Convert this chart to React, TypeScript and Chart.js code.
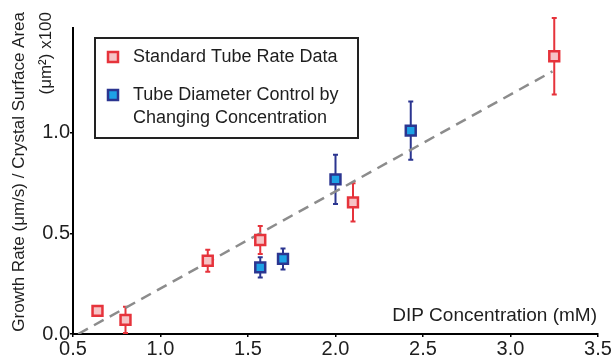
import React, { useEffect, useRef } from "react";
import { Chart, registerables } from "chart.js";

Chart.register(...registerables);

// ---- data ----
const standardX = [0.64, 0.8, 1.27, 1.57, 2.1, 3.25];
const standardY = [0.115, 0.07, 0.364, 0.467, 0.654, 1.38];
const standardErr = [0, 0.065, 0.055, 0.07, 0.095, 0.19];

const controlX = [1.57, 1.7, 2.0, 2.43];
const controlY = [0.331, 0.373, 0.768, 1.01];
const controlErr = [0.05, 0.052, 0.122, 0.145];

const fitX = [0.53, 3.24];
const fitY = [0.0, 1.305];

const xTicks = [0.5, 1.0, 1.5, 2.0, 2.5, 3.0, 3.5];
const yTicks = [0.0, 0.5, 1.0];

const standardLabel = "Standard Tube Rate Data";
const controlLabel = ["Tube Diameter Control by", "Changing Concentration"];
const xTitle = "DIP Concentration (mM)";
const yTitle = ["Growth Rate (\u03bcm/s) / Crystal Surface Area", "(\u03bcm\u00b2) x100"];

const FONT = "'Liberation Sans', Arial, sans-serif";
const RED = "#e6333b";
const RED_FILL = "#f6c3c5";
const BLUE = "#2b3590";
const BLUE_FILL = "#1ea2e6";
const TEXT = "#1e1e1e";

const errorBarPlugin = {
  id: "errorBars",
  beforeDatasetsDraw(chart: any) {
    const ctx = chart.ctx;
    const xs = chart.scales.x;
    const ys = chart.scales.y;
    const sets = [
      { x: standardX, y: standardY, e: standardErr, c: RED },
      { x: controlX, y: controlY, e: controlErr, c: BLUE },
    ];
    ctx.save();
    for (const s of sets) {
      ctx.strokeStyle = s.c;
      ctx.lineWidth = 2;
      for (let i = 0; i < s.x.length; i++) {
        if (!s.e[i]) continue;
        const px = xs.getPixelForValue(s.x[i]);
        const top = ys.getPixelForValue(s.y[i] + s.e[i]);
        const bot = ys.getPixelForValue(s.y[i] - s.e[i]);
        ctx.beginPath();
        ctx.moveTo(px, top);
        ctx.lineTo(px, bot);
        ctx.moveTo(px - 2.5, top);
        ctx.lineTo(px + 2.5, top);
        ctx.moveTo(px - 2.5, bot);
        ctx.lineTo(px + 2.5, bot);
        ctx.stroke();
      }
    }
    ctx.restore();
  },
};

const annotationPlugin = {
  id: "annotations",
  afterDraw(chart: any) {
    const ctx = chart.ctx;
    ctx.save();
    // y axis title (two rotated lines, ending at the top)
    ctx.fillStyle = TEXT;
    ctx.font = `17px ${FONT}`;
    ctx.textBaseline = "middle";
    ctx.textAlign = "right";
    const cols = [19, 46];
    yTitle.forEach((t, i) => {
      ctx.save();
      ctx.translate(cols[i], 12);
      ctx.rotate(-Math.PI / 2);
      ctx.fillText(t, 0, 0);
      ctx.restore();
    });
    // x axis title inside plot
    ctx.font = `19px ${FONT}`;
    ctx.textAlign = "right";
    ctx.textBaseline = "alphabetic";
    ctx.fillText(xTitle, 597, 321);

    // legend
    ctx.strokeStyle = "#222";
    ctx.lineWidth = 2;
    ctx.strokeRect(95, 38, 263, 100);
    const marker = (cx: number, cy: number, fill: string, stroke: string) => {
      ctx.fillStyle = fill;
      ctx.strokeStyle = stroke;
      ctx.lineWidth = 2.5;
      ctx.fillRect(cx - 5, cy - 5, 10, 10);
      ctx.strokeRect(cx - 5, cy - 5, 10, 10);
    };
    marker(113, 57, RED_FILL, RED);
    marker(113, 95, BLUE_FILL, BLUE);
    ctx.fillStyle = TEXT;
    ctx.font = `18px ${FONT}`;
    ctx.textAlign = "left";
    ctx.textBaseline = "middle";
    ctx.fillText(standardLabel, 133, 57);
    ctx.fillText(controlLabel[0], 133, 95);
    ctx.fillText(controlLabel[1], 133, 118);
    ctx.restore();
  },
};

const whiteBg = {
  id: "whiteBg",
  beforeDraw(chart: any) {
    const ctx = chart.ctx;
    ctx.save();
    ctx.fillStyle = "#ffffff";
    ctx.fillRect(0, 0, chart.width, chart.height);
    ctx.restore();
  },
};

export default function App() {
  const ref = useRef<HTMLCanvasElement | null>(null);
  useEffect(() => {
    if (!ref.current) return;
    const chart = new Chart(ref.current, {
      type: "scatter",
      data: {
        datasets: [
          {
            label: standardLabel,
            data: standardX.map((x, i) => ({ x, y: standardY[i] })),
            pointStyle: "rect",
            pointRadius: 7,
            pointBorderWidth: 2.5,
            backgroundColor: RED_FILL,
            borderColor: RED,
            order: 1,
          } as any,
          {
            label: controlLabel.join(" "),
            data: controlX.map((x, i) => ({ x, y: controlY[i] })),
            pointStyle: "rect",
            pointRadius: 7,
            pointBorderWidth: 2.5,
            backgroundColor: BLUE_FILL,
            borderColor: BLUE,
            order: 0,
          } as any,
          {
            type: "line",
            label: "fit",
            data: fitX.map((x, i) => ({ x, y: fitY[i] })),
            borderColor: "#8c8c8c",
            borderWidth: 2.5,
            borderDash: [11, 7],
            pointRadius: 0,
            fill: false,
            order: 2,
          } as any,
        ],
      },
      options: {
        responsive: false,
        animation: false,
        layout: { padding: { left: 0, right: 16, top: 28, bottom: 0 } },
        plugins: {
          legend: { display: false },
          tooltip: { enabled: false },
        },
        scales: {
          x: {
            type: "linear",
            min: 0.5,
            max: 3.5,
            afterBuildTicks: (s: any) => {
              s.ticks = xTicks.map((v) => ({ value: v }));
            },
            afterFit: (s: any) => {
              s.height = 24;
            },
            border: { color: "#000", width: 2 },
            grid: { drawOnChartArea: false, drawTicks: true, tickLength: 3, color: "#000", lineWidth: 1.5 },
            ticks: {
              color: TEXT,
              padding: 0,
              maxRotation: 0,
              font: { family: FONT, size: 20 },
              callback: (v: any) => Number(v).toFixed(1),
            },
          },
          y: {
            type: "linear",
            min: 0,
            max: 1.52,
            afterBuildTicks: (s: any) => {
              s.ticks = yTicks.map((v) => ({ value: v }));
            },
            afterFit: (s: any) => {
              s.width = 73;
            },
            border: { color: "#000", width: 2 },
            grid: { drawOnChartArea: false, drawTicks: true, tickLength: 3, color: "#000", lineWidth: 1.5 },
            ticks: {
              color: TEXT,
              padding: 0,
              font: { family: FONT, size: 20 },
              callback: (v: any) => Number(v).toFixed(1),
            },
          },
        },
      },
      plugins: [whiteBg, errorBarPlugin, annotationPlugin],
    });
    return () => chart.destroy();
  }, []);
  return (
    <div style={{ position: "fixed", left: 0, top: 0, width: 614, height: 358, background: "#fff" }}>
      <canvas ref={ref} width={614} height={358} style={{ display: "block" }} />
    </div>
  );
}
